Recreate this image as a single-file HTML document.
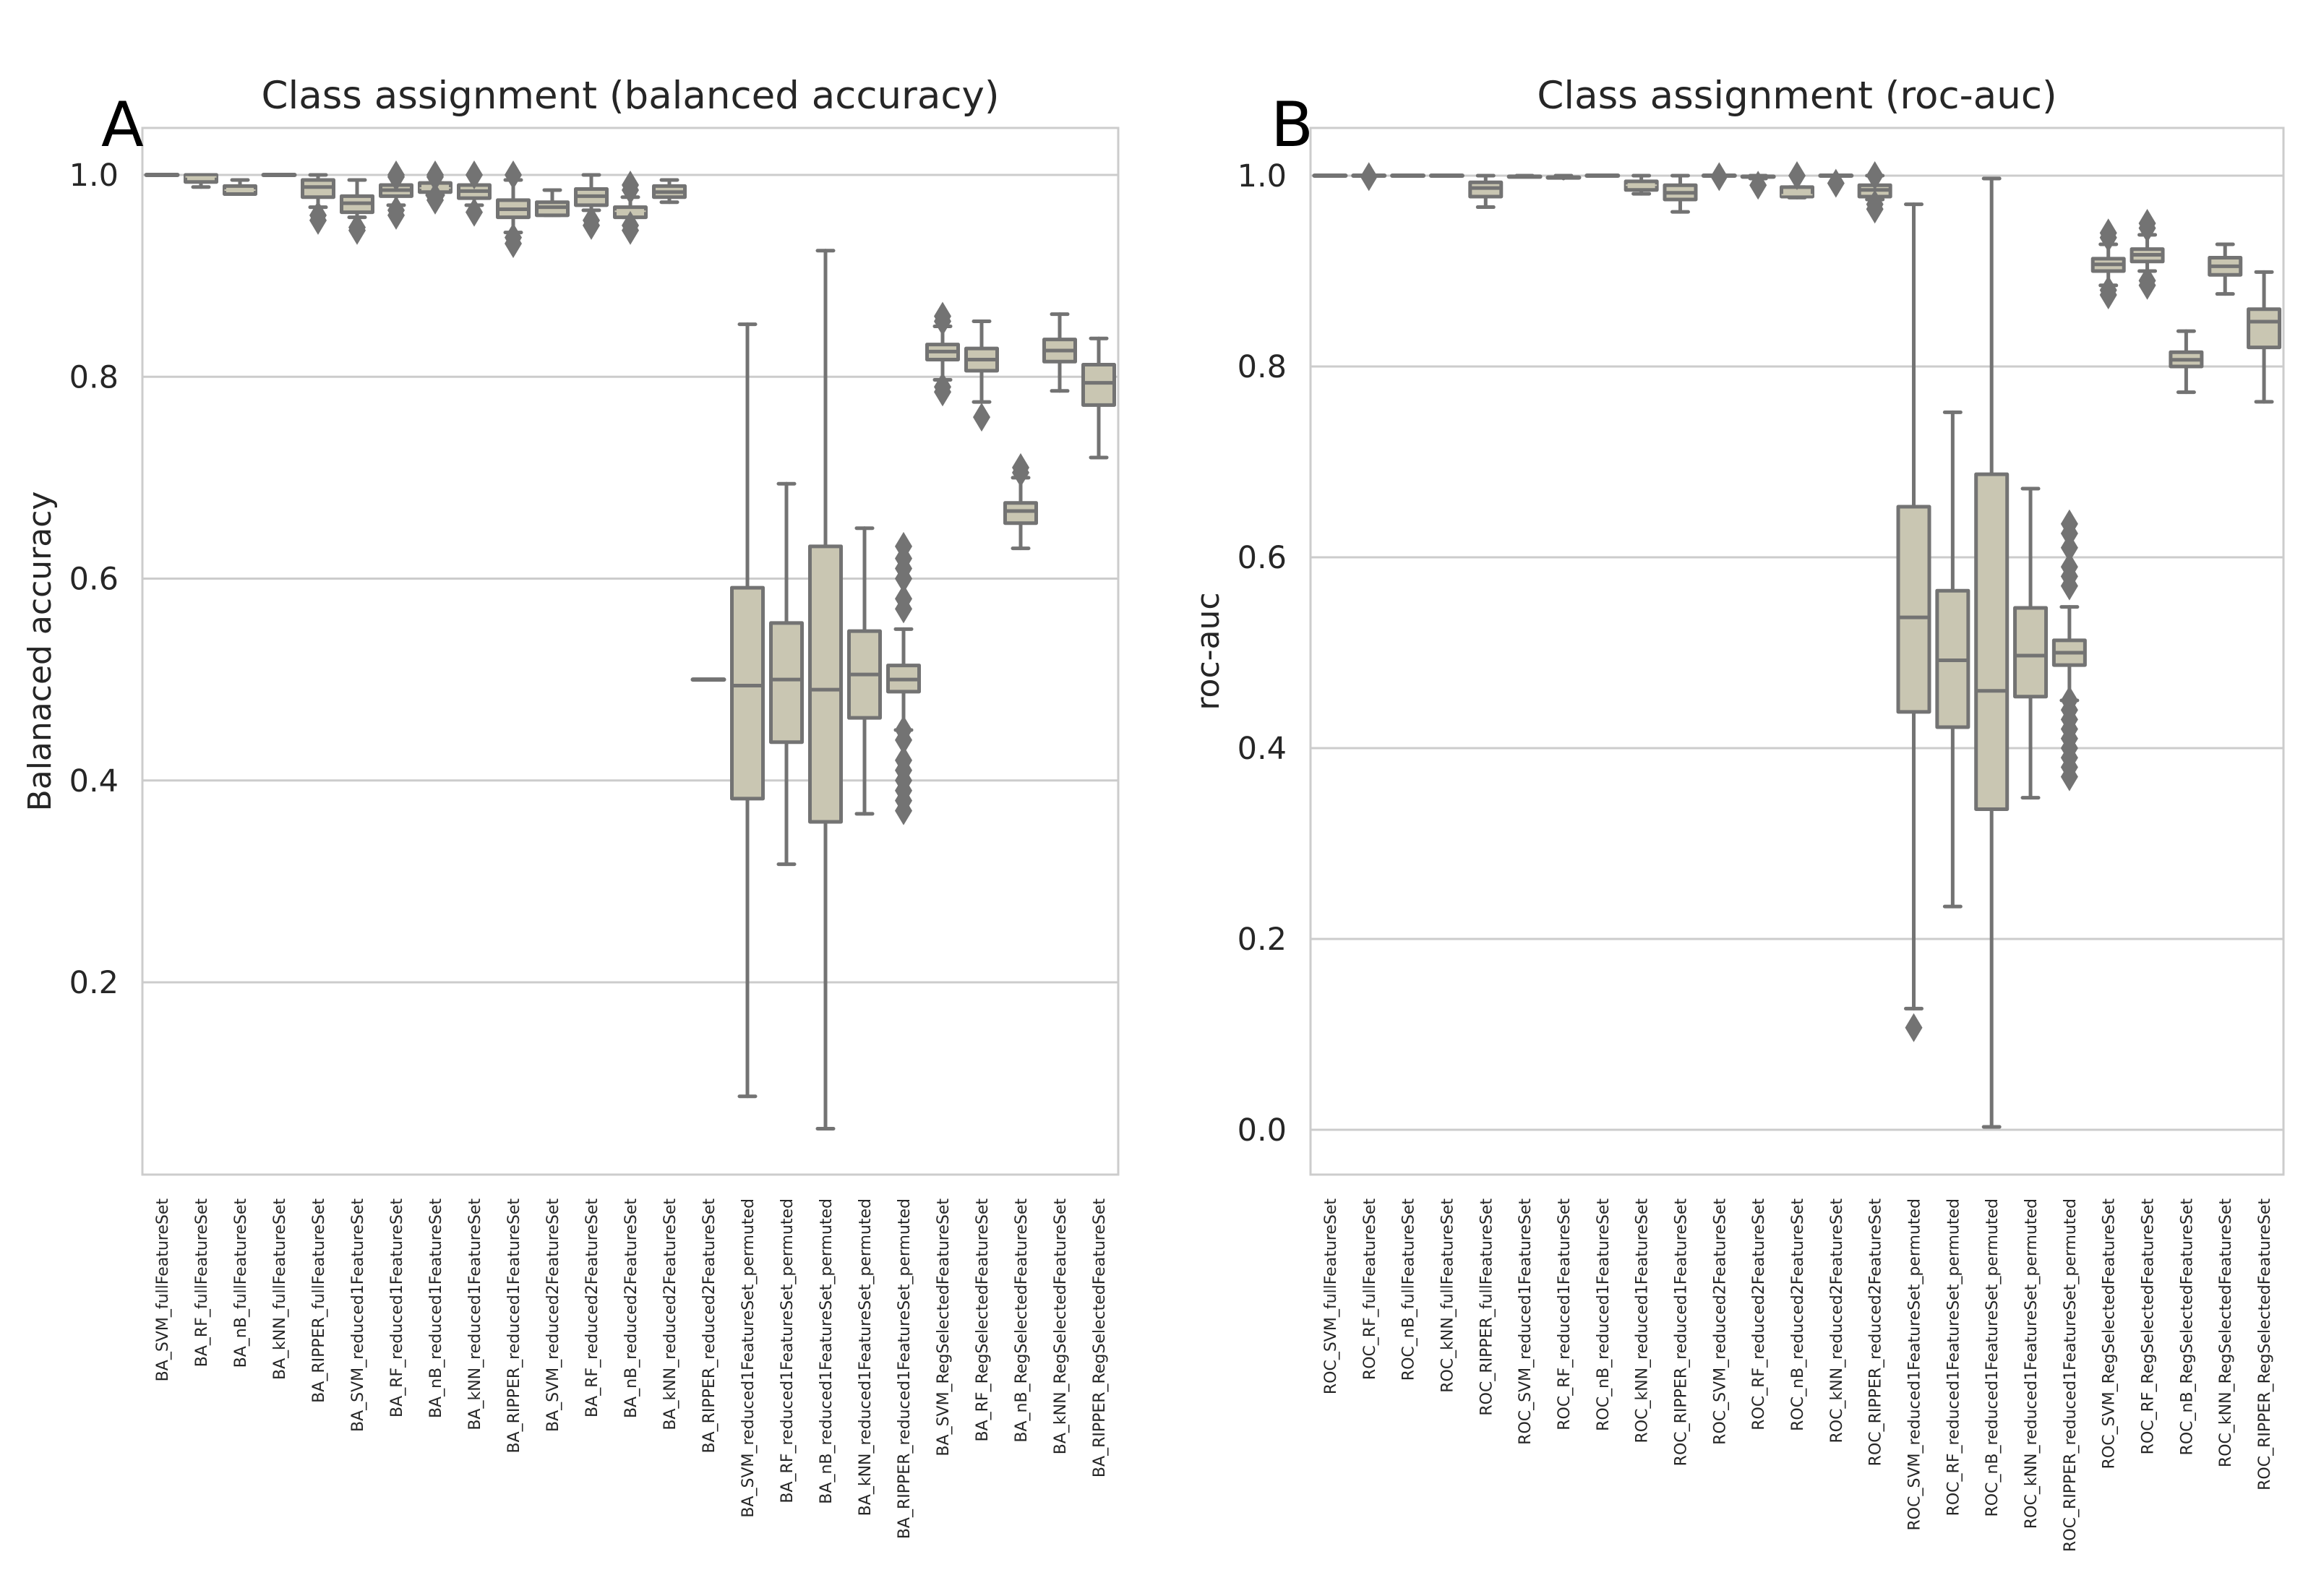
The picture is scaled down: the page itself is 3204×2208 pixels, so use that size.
<!DOCTYPE html>
<html><head><meta charset="utf-8">
<style>
html,body{margin:0;padding:0;background:#fff;}
svg{display:block;}
text{font-family:"DejaVu Sans","Liberation Sans",sans-serif;fill:#262626;}
</style></head>
<body>
<svg id="chart" width="3204" height="2208" viewBox="0 0 3204 2208" xmlns="http://www.w3.org/2000/svg"></svg>
<script>
// ---- Panel A data (balanced accuracy) ----
const catsA = ["BA_SVM_fullFeatureSet","BA_RF_fullFeatureSet","BA_nB_fullFeatureSet","BA_kNN_fullFeatureSet","BA_RIPPER_fullFeatureSet","BA_SVM_reduced1FeatureSet","BA_RF_reduced1FeatureSet","BA_nB_reduced1FeatureSet","BA_kNN_reduced1FeatureSet","BA_RIPPER_reduced1FeatureSet","BA_SVM_reduced2FeatureSet","BA_RF_reduced2FeatureSet","BA_nB_reduced2FeatureSet","BA_kNN_reduced2FeatureSet","BA_RIPPER_reduced2FeatureSet","BA_SVM_reduced1FeatureSet_permuted","BA_RF_reduced1FeatureSet_permuted","BA_nB_reduced1FeatureSet_permuted","BA_kNN_reduced1FeatureSet_permuted","BA_RIPPER_reduced1FeatureSet_permuted","BA_SVM_RegSelectedFeatureSet","BA_RF_RegSelectedFeatureSet","BA_nB_RegSelectedFeatureSet","BA_kNN_RegSelectedFeatureSet","BA_RIPPER_RegSelectedFeatureSet"];
const wloA = [1.0,0.988,0.981,1.0,0.968,0.958,0.97,0.98,0.97,0.943,0.96,0.965,0.958,0.973,0.5,0.087,0.317,0.055,0.367,0.45,0.797,0.775,0.63,0.786,0.72];
const q1A  = [1.0,0.993,0.981,1.0,0.978,0.963,0.979,0.983,0.977,0.958,0.96,0.97,0.958,0.978,0.5,0.382,0.438,0.359,0.462,0.488,0.817,0.806,0.655,0.815,0.772];
const medA = [1.0,0.998,0.985,1.0,0.988,0.972,0.985,0.987,0.984,0.966,0.968,0.979,0.964,0.983,0.5,0.494,0.5,0.49,0.505,0.5,0.825,0.817,0.667,0.826,0.794];
const q3A  = [1.0,1.0,0.989,1.0,0.995,0.979,0.99,0.992,0.99,0.975,0.973,0.986,0.968,0.989,0.5,0.591,0.556,0.632,0.548,0.514,0.832,0.828,0.675,0.837,0.812];
const whiA = [1.0,1.0,0.995,1.0,1.0,0.995,0.99,0.992,0.99,0.995,0.985,1.0,0.978,0.995,0.5,0.852,0.694,0.925,0.65,0.55,0.85,0.855,0.7,0.862,0.838];
const outA = [[],[],[],[],[0.96,0.955],[0.948,0.945],[1.0,0.998,0.965,0.96],[1.0,0.998,0.978,0.975],[1.0,0.963],[1.0,0.938,0.932],[],[0.955,0.95],[0.99,0.985,0.95,0.945],[],[],[],[],[],[],[0.632,0.62,0.61,0.6,0.58,0.57,0.45,0.44,0.42,0.41,0.4,0.39,0.38,0.37],[0.86,0.855,0.79,0.785],[0.76],[0.71,0.705],[],[]];
const ticksA = [0.2,0.4,0.6,0.8,1.0];
const tickLabelsA = ["0.2","0.4","0.6","0.8","1.0"];

// ---- Panel B data (roc-auc) ----
const catsB = ["ROC_SVM_fullFeatureSet","ROC_RF_fullFeatureSet","ROC_nB_fullFeatureSet","ROC_kNN_fullFeatureSet","ROC_RIPPER_fullFeatureSet","ROC_SVM_reduced1FeatureSet","ROC_RF_reduced1FeatureSet","ROC_nB_reduced1FeatureSet","ROC_kNN_reduced1FeatureSet","ROC_RIPPER_reduced1FeatureSet","ROC_SVM_reduced2FeatureSet","ROC_RF_reduced2FeatureSet","ROC_nB_reduced2FeatureSet","ROC_kNN_reduced2FeatureSet","ROC_RIPPER_reduced2FeatureSet","ROC_SVM_reduced1FeatureSet_permuted","ROC_RF_reduced1FeatureSet_permuted","ROC_nB_reduced1FeatureSet_permuted","ROC_kNN_reduced1FeatureSet_permuted","ROC_RIPPER_reduced1FeatureSet_permuted","ROC_SVM_RegSelectedFeatureSet","ROC_RF_RegSelectedFeatureSet","ROC_nB_RegSelectedFeatureSet","ROC_kNN_RegSelectedFeatureSet","ROC_RIPPER_RegSelectedFeatureSet"];
const wloB = [1.0,1.0,1.0,1.0,0.967,0.999,0.998,1.0,0.981,0.962,1.0,0.997,0.977,1.0,0.975,0.127,0.234,0.003,0.348,0.45,0.885,0.9,0.773,0.876,0.763];
const q1B  = [1.0,1.0,1.0,1.0,0.978,0.999,0.997,1.0,0.985,0.975,1.0,0.997,0.978,1.0,0.978,0.438,0.422,0.336,0.454,0.487,0.9,0.91,0.8,0.896,0.82];
const medB = [1.0,1.0,1.0,1.0,0.987,0.999,0.998,1.0,0.99,0.982,1.0,0.999,0.98,1.0,0.985,0.537,0.492,0.46,0.497,0.5,0.907,0.917,0.807,0.905,0.847];
const q3B  = [1.0,1.0,1.0,1.0,0.993,1.0,0.999,1.0,0.994,0.99,1.0,1.0,0.988,1.0,0.99,0.653,0.565,0.687,0.547,0.513,0.913,0.923,0.815,0.914,0.86];
const whiB = [1.0,1.0,1.0,1.0,1.0,1.0,1.0,1.0,1.0,1.0,1.0,1.0,0.988,1.0,1.0,0.97,0.752,0.997,0.672,0.548,0.928,0.938,0.837,0.928,0.899];
const outB = [[],[0.999],[],[],[],[],[],[],[],[],[0.999],[0.99],[1.0],[0.992],[1.0,0.97,0.965],[0.107],[],[],[],[0.635,0.625,0.61,0.59,0.58,0.57,0.45,0.44,0.43,0.42,0.41,0.4,0.39,0.38,0.37],[0.94,0.935,0.88,0.875],[0.95,0.945,0.89,0.885],[],[],[]];
const ticksB = [0.0,0.2,0.4,0.6,0.8,1.0];
const tickLabelsB = ["0.0","0.2","0.4","0.6","0.8","1.0"];

const NS = "http://www.w3.org/2000/svg";
const svg = document.getElementById("chart");
const GREY = "#737373", FILL = "#c9c6b2", GRID = "#cccccc";
function mk(tag, attrs, parent){ const e=document.createElementNS(NS,tag); for(const k in attrs) e.setAttribute(k,attrs[k]); (parent||svg).appendChild(e); return e; }

function panel(cfg){
  const g = mk("g",{});
  
  
  const L=cfg.left,R=cfg.right,T=177,B=1625;
  const y = v => cfg.y1 + (1-v)*cfg.pxPerUnit;
  const n = cfg.cats.length, step=(R-L)/n;
  const x = i => L + step*(i+0.5);
  cfg.ticks.forEach((t,i)=>{
    const gl = mk("line",{x1:L,x2:R,y1:y(t),y2:y(t),stroke:GRID,"stroke-width":3},g);
    
    
    const tl = mk("text",{x:L-33,y:y(t)+15,"text-anchor":"end","font-size":43},g);
    tl.textContent = cfg.tickLabels[i];
    
    
  });
  const fr = mk("rect",{x:L,y:T,width:R-L,height:B-T,fill:"none",stroke:GRID,"stroke-width":3},g);
  
  
  const bw = 43;
  cfg.cats.forEach((c,i)=>{
    const cx=x(i);
    const bg = mk("g",{},g);
    
    
    const ls = {stroke:GREY,"stroke-width":5,"stroke-linecap":"round"};
    mk("line",Object.assign({x1:cx,x2:cx,y1:y(cfg.whi[i]),y2:y(cfg.q3[i])},ls),bg);
    mk("line",Object.assign({x1:cx,x2:cx,y1:y(cfg.q1[i]),y2:y(cfg.wlo[i])},ls),bg);
    mk("line",Object.assign({x1:cx-11,x2:cx+11,y1:y(cfg.whi[i]),y2:y(cfg.whi[i])},ls),bg);
    mk("line",Object.assign({x1:cx-11,x2:cx+11,y1:y(cfg.wlo[i]),y2:y(cfg.wlo[i])},ls),bg);
    const h = y(cfg.q1[i])-y(cfg.q3[i]);
    if (h < 4) {
      mk("line",Object.assign({x1:cx-bw/2,x2:cx+bw/2,y1:y(cfg.med[i]),y2:y(cfg.med[i])},ls,{"stroke-width":6}),bg);
    } else {
      mk("rect",{x:cx-bw/2,y:y(cfg.q3[i]),width:bw,height:h,fill:FILL,stroke:GREY,"stroke-width":5,"stroke-linejoin":"round"},bg);
      mk("line",{x1:cx-bw/2,x2:cx+bw/2,y1:y(cfg.med[i]),y2:y(cfg.med[i]),stroke:h>14?GREY:FILL,"stroke-width":h>14?5:2},bg);
    }
    cfg.out[i].forEach(v=>{
      const d = mk("path",{d:`M${cx},${y(v)-20} L${cx+12},${y(v)} L${cx},${y(v)+20} L${cx-12},${y(v)} Z`,fill:GREY},bg);
      
      
    });
    const lab = mk("text",{x:0,y:0,"text-anchor":"end","font-size":22,transform:`translate(${cx+8},1658) rotate(-90)`},g);
    lab.textContent = c;
    
    
  });
  const ti = mk("text",{x:(L+R)/2,y:150,"text-anchor":"middle","font-size":53},g);
  ti.textContent = cfg.title;
  
  
  const yl = mk("text",{x:0,y:0,"text-anchor":"middle","font-size":44,transform:`translate(${cfg.ylabX},${(T+B)/2}) rotate(-90)`},g);
  yl.textContent = cfg.ylabel;
  
  
  const pl = mk("text",{x:cfg.letterX,y:202,"font-size":86,style:"fill:#000"},g);
  pl.textContent = cfg.letter;
  
  
}
panel({name:"panel-a",left:197,right:1547,y1:242,pxPerUnit:1396.25,cats:catsA,wlo:wloA,q1:q1A,med:medA,q3:q3A,whi:whiA,out:outA,ticks:ticksA,tickLabels:tickLabelsA,title:"Class assignment (balanced accuracy)",ylabel:"Balanaced accuracy",ylabX:70,letter:"A",letterX:140});
panel({name:"panel-b",left:1813,right:3159,y1:243,pxPerUnit:1320,cats:catsB,wlo:wloB,q1:q1B,med:medB,q3:q3B,whi:whiB,out:outB,ticks:ticksB,tickLabels:tickLabelsB,title:"Class assignment (roc-auc)",ylabel:"roc-auc",ylabX:1686,letter:"B",letterX:1758});
</script>
</body></html>
